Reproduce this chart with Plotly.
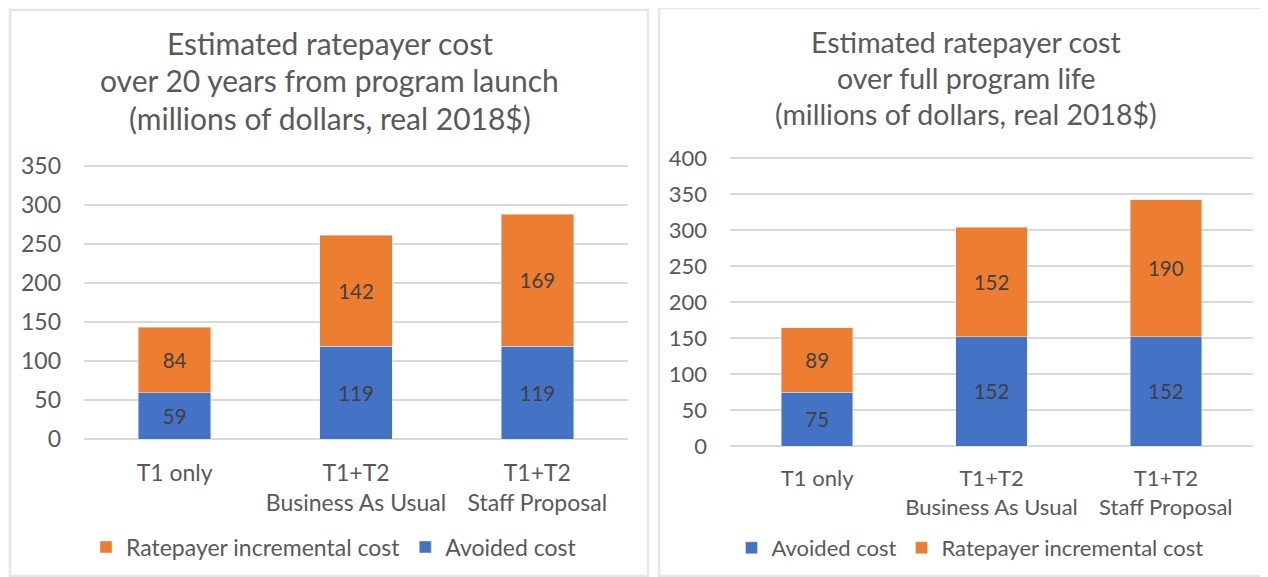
import plotly.graph_objects as go

categories = ["T1 only", "T1+T2<br>Business As Usual", "T1+T2<br>Staff Proposal"]

left_avoided = [59, 119, 119]
left_incremental = [84, 142, 169]
right_avoided = [75, 152, 152]
right_incremental = [89, 152, 190]

left_ticks = [0, 50, 100, 150, 200, 250, 300, 350]
right_ticks = [0, 50, 100, 150, 200, 250, 300, 350, 400]

left_title_lines = ["Estimated ratepayer cost", "over 20 years from program launch",
                    "(millions of dollars, real 2018$)"]
right_title_lines = ["Estimated ratepayer cost", "over full program life",
                     "(millions of dollars, real 2018$)"]

ORANGE = "#ED7D31"
BLUE = "#4472C4"
TXT = "#595959"
LBL = "#404040"
FONT = "Lato"

W, H = 1268, 577
OFF = 8  # page body margin


def px(x):
    return (x - OFF) / W


def py(y):
    return 1 - (y - OFF) / H


# pixel geometry of the value axes (screen coords) -> pad range so edge gridlines are drawn
L_ZERO, L_TOP, L_MAX = 439, 166, 350
R_ZERO, R_TOP, R_MAX = 446, 158, 400
PAD_LO, PAD_HI = -3, 3
l_unit = (L_ZERO - L_TOP) / L_MAX
r_unit = (R_ZERO - R_TOP) / R_MAX

fig = go.Figure()

common = dict(textposition="inside", insidetextanchor="middle", textangle=0,
              constraintext="none", textfont=dict(family=FONT, size=20.5, color=LBL),
              texttemplate="%{y}", hoverinfo="skip")

fig.add_trace(go.Bar(x=categories, y=left_avoided, name="Avoided cost", marker_color=BLUE,
                     xaxis="x", yaxis="y", legend="legend", width=0.4, **common))
fig.add_trace(go.Bar(x=categories, y=left_incremental, name="Ratepayer incremental cost",
                     marker_color=ORANGE, xaxis="x", yaxis="y", legend="legend", width=0.4,
                     **common))
fig.add_trace(go.Bar(x=categories, y=right_avoided, name="Avoided cost", marker_color=BLUE,
                     xaxis="x2", yaxis="y2", legend="legend2", width=0.41, **common))
fig.add_trace(go.Bar(x=categories, y=right_incremental, name="Ratepayer incremental cost",
                     marker_color=ORANGE, xaxis="x2", yaxis="y2", legend="legend2", width=0.41,
                     **common))

xcommon = dict(showline=False, ticks="", showgrid=False, zeroline=False)
ycommon = dict(showline=False, ticks="", showgrid=True, gridcolor="#d9d9d9", gridwidth=1.5,
               zeroline=False, ticklabelstandoff=22)

annotations = []
for txt, yy in zip(left_title_lines, [43, 80, 118]):
    annotations.append(dict(text=txt, xref="paper", yref="paper", x=px(330), y=py(yy),
                            xanchor="center", yanchor="middle", showarrow=False,
                            font=dict(family=FONT, size=30, color=TXT)))
for txt, yy in zip(right_title_lines, [42, 78, 114]):
    annotations.append(dict(text=txt, xref="paper", yref="paper", x=px(966), y=py(yy),
                            xanchor="center", yanchor="middle", showarrow=False,
                            font=dict(family=FONT, size=28.5, color=TXT)))

fig.update_layout(
    width=W, height=H,
    barmode="stack",
    paper_bgcolor="white", plot_bgcolor="white",
    margin=dict(l=0, r=0, t=0, b=0, autoexpand=False),
    xaxis=dict(domain=[px(84), px(628)], anchor="y", ticklabelstandoff=16,
               tickfont=dict(family=FONT, size=23, color=TXT), **xcommon),
    yaxis=dict(domain=[py(L_ZERO - PAD_LO * l_unit), py(L_TOP - PAD_HI * l_unit)], anchor="x",
               range=[PAD_LO, L_MAX + PAD_HI], tickvals=left_ticks,
               tickfont=dict(family=FONT, size=23, color=TXT), **ycommon),
    xaxis2=dict(domain=[px(730), px(1253)], anchor="y2", ticklabelstandoff=15,
                tickfont=dict(family=FONT, size=22, color=TXT), **xcommon),
    yaxis2=dict(domain=[py(R_ZERO - PAD_LO * r_unit), py(R_TOP - PAD_HI * r_unit)], anchor="x2",
                range=[PAD_LO, R_MAX + PAD_HI], tickvals=right_ticks,
                tickfont=dict(family=FONT, size=22, color=TXT), **ycommon),
    legend=dict(orientation="h", x=px(334), xanchor="center", y=py(547), yanchor="middle",
                traceorder="reversed", font=dict(family=FONT, size=23, color=TXT),
                bgcolor="rgba(0,0,0,0)"),
    legend2=dict(orientation="h", x=px(970), xanchor="center", y=py(548), yanchor="middle",
                 traceorder="normal", font=dict(family=FONT, size=22, color=TXT),
                 bgcolor="rgba(0,0,0,0)"),
    annotations=annotations,
    shapes=[
        dict(type="rect", xref="paper", yref="paper", x0=px(10), x1=px(648), y0=py(576), y1=py(10),
             line=dict(color="#e6e6e6", width=2.5), layer="below"),
        dict(type="rect", xref="paper", yref="paper", x0=px(659), x1=px(1267), y0=py(576), y1=py(8),
             line=dict(color="#e6e6e6", width=2.5), layer="below"),
    ],
    showlegend=True,
)

fig.write_html("out.html")
